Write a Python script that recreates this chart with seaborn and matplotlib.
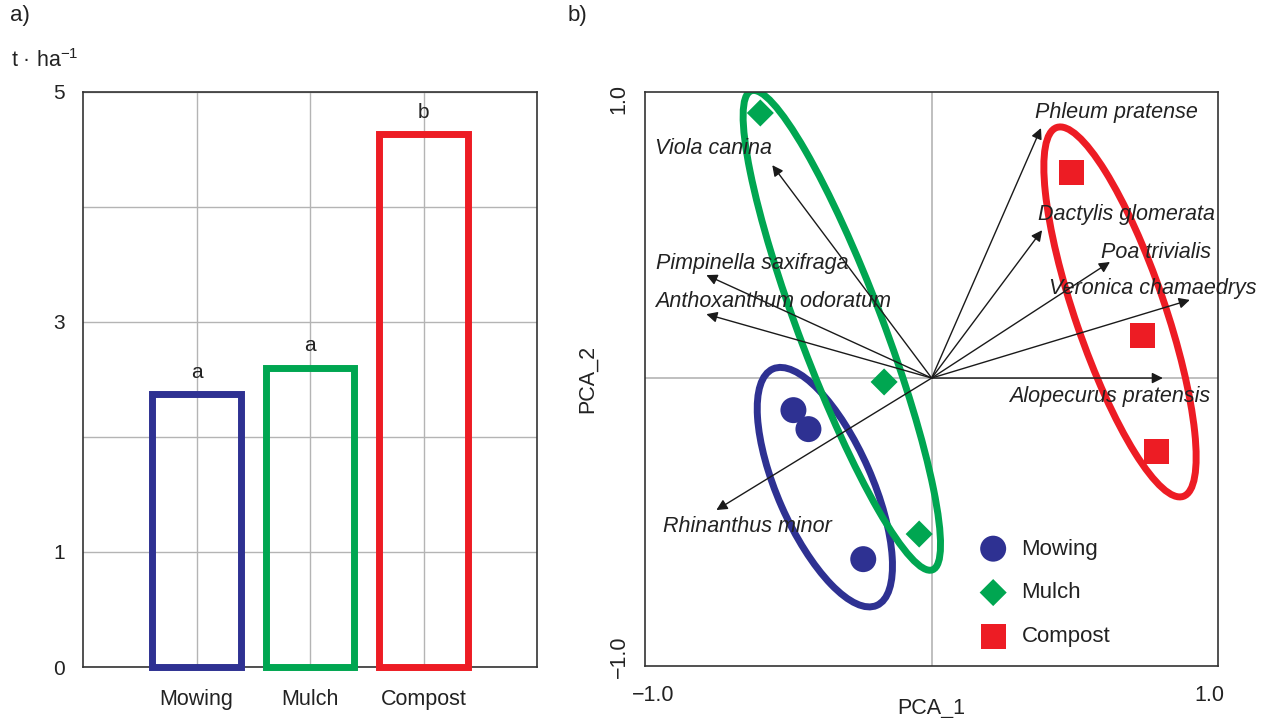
import matplotlib
matplotlib.use("Agg")
import matplotlib.pyplot as plt
from matplotlib.patches import Ellipse
import seaborn as sns
import pandas as pd

# --- datos panel a) ---
tratamientos = ["Mowing", "Mulch", "Compost"]
rendimiento = [2.37, 2.60, 4.63]
letras = ["a", "a", "b"]
colores = ["#2E3192", "#00A651", "#ED1C24"]

# --- datos panel b) (PCA) ---
pca1_mowing = [-0.497, -0.443, -0.246]
pca2_mowing = [-0.115, -0.183, -0.649]
pca1_mulch = [-0.616, -0.171, -0.045]
pca2_mulch = [0.950, -0.014, -0.559]
pca1_compost = [0.501, 0.759, 0.810]
pca2_compost = [0.738, 0.154, -0.262]

especies = ["Viola canina", "Pimpinella saxifraga", "Anthoxanthum odoratum",
            "Rhinanthus minor", "Phleum pratense", "Dactylis glomerata",
            "Poa trivialis", "Veronica chamaedrys", "Alopecurus pratensis"]
carga_pc1 = [-0.573, -0.810, -0.810, -0.774, 0.393, 0.397, 0.641, 0.928, 0.831]
carga_pc2 = [0.763, 0.369, 0.229, -0.473, 0.896, 0.530, 0.416, 0.280, 0.0]

# elipses: centro x, centro y, semieje mayor, semieje menor, angulo
elipse_cx = [-0.384, -0.323, 0.677]
elipse_cy = [-0.391, 0.171, 0.237]
elipse_a = [0.463, 0.918, 0.699]
elipse_b = [0.170, 0.150, 0.161]
elipse_ang = [113.8, 110.8, 109.0]

# posicion de las etiquetas de especies (texto, no datos)
etiqueta_x = [-0.993, -0.99, -0.993, -0.965, 0.372, 0.383, 0.61, 0.422, 0.28]
etiqueta_y = [0.803, 0.391, 0.254, -0.552, 0.932, 0.566, 0.43, 0.301, -0.086]

sns.set_style("white")
plt.rcParams['font.family'] = ['Liberation Sans', 'DejaVu Sans']
plt.rcParams['mathtext.default'] = 'regular'
gris = "#b4b4b4"
borde = "#333333"
texto = "#222222"

fig = plt.figure(figsize=(12.65, 7.18), dpi=100)
axA = fig.add_axes([0.0656, 0.071, 0.359, 0.801])
axB = fig.add_axes([0.510, 0.0724, 0.453, 0.7994])

# ---------- panel a) ----------
df = pd.DataFrame({"tratamiento": tratamientos, "t": rendimiento})
sns.barplot(data=df, x="tratamiento", y="t", hue="tratamiento", palette=colores,
            fill=False, linewidth=5.0, width=0.78, legend=False, ax=axA)
for p in axA.patches:
    p.set_clip_on(False)
    p.set_zorder(3)
for i, (h, l) in enumerate(zip(rendimiento, letras)):
    axA.text(i, h + 0.11, l, ha="center", va="bottom", fontsize=15, color=texto)
axA.set_xlim(-1, 3)
axA.set_ylim(0, 5)
axA.set_yticks([0, 1, 2, 3, 4, 5])
axA.set_yticklabels(["0", "1", "", "3", "", "5"])
axA.grid(True, color=gris, lw=1)
axA.set_axisbelow(True)
axA.set_xlabel("")
axA.set_ylabel("")
axA.tick_params(axis="x", length=0, pad=16, labelsize=15.5, colors=texto)
axA.tick_params(axis="y", direction="in", length=4, pad=13, labelsize=15,
                colors=texto)
for s in axA.spines.values():
    s.set_color(borde)
    s.set_linewidth(1.2)

fig.text(10 / 1265, 1 - 15 / 718, "a)", fontsize=16, va="center", color=texto)
fig.text(11 / 1265, 1 - 67 / 718, "t · ha$^{-1}$", fontsize=15.5, va="baseline",
         color=texto)
fig.text(568 / 1265, 1 - 15 / 718, "b)", fontsize=16, va="center", color=texto)

# ---------- panel b) ----------
axB.axhline(0, color=gris, lw=1.2, zorder=0)
axB.axvline(0, color=gris, lw=1.2, zorder=0)

for cx, cy, a, b, ang, c in zip(elipse_cx, elipse_cy, elipse_a, elipse_b,
                                elipse_ang, colores):
    axB.add_patch(Ellipse((cx, cy), 2 * a, 2 * b, angle=ang, fill=False,
                          edgecolor=c, lw=5.0, zorder=2))

for x, y, tx, ty, nombre in zip(carga_pc1, carga_pc2, etiqueta_x, etiqueta_y, especies):
    axB.annotate("", xy=(x, y), xytext=(0, 0),
                 arrowprops=dict(arrowstyle="-|>", color="#1a1a1a", lw=1.0,
                                 mutation_scale=16, shrinkA=0, shrinkB=0),
                 zorder=3)
    axB.text(tx, ty, nombre, fontsize=15.5, style="italic", ha="left",
             va="baseline", color=texto, zorder=4, clip_on=False)

sns.scatterplot(x=pca1_mowing, y=pca2_mowing, marker="o", s=350, color=colores[0],
                edgecolor="none", label="Mowing", ax=axB, zorder=5)
sns.scatterplot(x=pca1_mulch, y=pca2_mulch, marker="D", s=190, color=colores[1],
                edgecolor="none", label="Mulch", ax=axB, zorder=5)
sns.scatterplot(x=pca1_compost, y=pca2_compost, marker="s", s=324, color=colores[2],
                edgecolor="none", label="Compost", ax=axB, zorder=5)

leg = axB.legend(loc="upper left", bbox_to_anchor=(0.554, 0.257), frameon=False,
                 fontsize=16, handlelength=0.95, handletextpad=0.8,
                 labelspacing=1.03, borderpad=0.4)
for t in leg.get_texts():
    t.set_color(texto)

axB.set_xlim(-1.03, 1.03)
axB.set_ylim(-1.032, 1.025)
axB.set_xticks([-1, 1])
axB.set_xticklabels(["\u22121.0", "1.0"])
axB.set_yticks([-1, 1])
axB.set_yticklabels(["\u22121.0", "1.0"], rotation=90, va="center")
axB.tick_params(direction="inout", length=8, width=1, labelsize=15.5, colors=texto)
axB.tick_params(axis="x", pad=10)
axB.tick_params(axis="y", pad=7)
axB.set_xlabel("PCA_1", fontsize=15.5, color=texto, va="top")
axB.xaxis.set_label_coords(0.5, -0.055)
axB.set_ylabel("PCA_2", fontsize=15.5, labelpad=8, color=texto)
for s in axB.spines.values():
    s.set_color(borde)
    s.set_linewidth(1.2)

fig.savefig("out.png", dpi=100)
